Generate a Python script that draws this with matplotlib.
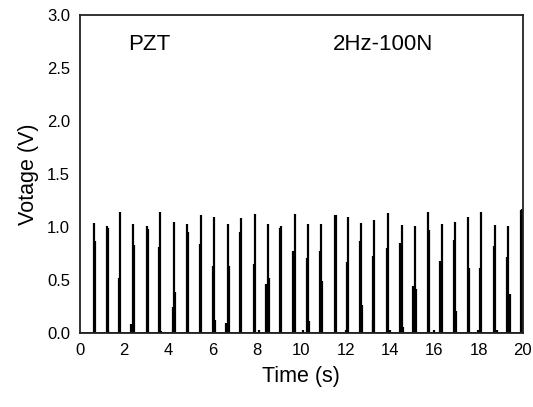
import matplotlib
matplotlib.use("Agg")
import matplotlib.pyplot as plt

plt.rcParams['font.family'] = ['Liberation Sans', 'DejaVu Sans']

# spike times (s), peak voltage, left/right shoulder voltage
spike_t = [0.62, 1.22, 1.80, 2.38, 3.02, 3.63, 4.24, 4.85, 5.48, 6.05, 6.67,
           7.28, 7.89, 8.47, 9.09, 9.69, 10.29, 10.90, 11.50, 12.11, 12.70,
           13.30, 13.92, 14.52, 15.11, 15.71, 16.33, 16.93, 17.53, 18.13,
           18.75, 19.35, 19.95]
peak_v = [1.035, 1.01, 1.145, 1.025, 1.01, 1.145, 1.044, 1.025, 1.113, 1.097,
          1.028, 1.082, 1.123, 1.028, 1.01, 1.123, 1.028, 1.028, 1.113, 1.097,
          1.035, 1.066, 1.135, 1.016, 1.01, 1.145, 1.028, 1.044, 1.097, 1.145,
          1.016, 1.01, 1.17]
left_v = [0.0, 0.0, 0.52, 0.0, 0.0, 0.81, 0.24, 0.0, 0.84, 0.63, 0.0, 0.955,
          0.65, 0.46, 0.99, 0.77, 0.71, 0.77, 0.0, 0.667, 0.87, 0.73, 0.80,
          0.85, 0.44, 0.0, 0.68, 0.88, 0.0, 0.61, 0.82, 0.72, 1.16]
right_v = [0.87, 0.995, 0.0, 0.83, 0.98, 0.0, 0.39, 0.955, 0.0, 0.0, 0.63,
           0.0, 0.0, 0.52, 0.0, 0.0, 0.0, 0.49, 1.11, 0.0, 0.26, 0.0, 0.0,
           0.0, 0.41, 0.97, 0.0, 0.21, 0.61, 0.0, 0.0, 0.37, 0.0]
# small bumps near baseline: time, voltage
bump_t = [2.30, 1.27, 4.18, 3.68, 6.12, 6.60, 8.10, 10.05, 10.36, 12.00,
          13.22, 13.99, 14.57, 16.00, 17.98, 18.82]
bump_v = [0.085, 0.03, 0.03, 0.02, 0.12, 0.09, 0.03, 0.03, 0.11, 0.03,
          0.12, 0.03, 0.06, 0.03, 0.03, 0.03]

x_ticks = [0, 2, 4, 6, 8, 10, 12, 14, 16, 18, 20]
y_ticks = [0.0, 0.5, 1.0, 1.5, 2.0, 2.5, 3.0]

fig = plt.figure(figsize=(5.33, 4.07), dpi=100)
ax = fig.add_axes([0.150, 0.182, 0.831, 0.781])

off = 0.05
lw = 1.6
ax.vlines(spike_t, 0, peak_v, color='black', lw=lw)
ax.vlines([t - off for t in spike_t], 0, left_v, color='black', lw=lw)
ax.vlines([t + off for t in spike_t], 0, right_v, color='black', lw=lw)
ax.vlines(bump_t, 0, bump_v, color='black', lw=lw)
ax.plot([0, 20], [0, 0], color='black', lw=1.2)

ax.set_xlim(0, 20)
ax.set_ylim(0, 3.0)
ax.set_xticks(x_ticks)
ax.set_xticklabels([str(v) for v in x_ticks])
ax.set_yticks(y_ticks)
ax.set_yticklabels([f"{v:.1f}" for v in y_ticks])
ax.tick_params(length=0, labelsize=12, pad=7)
for s in ax.spines.values():
    s.set_linewidth(1.3)
    s.set_color('#222222')

ax.set_xlabel('Time (s)', fontsize=15.5, labelpad=6)
ax.set_ylabel('Votage (V)', fontsize=15.5, labelpad=6)

ax.text(2.17, 2.72, 'PZT', fontsize=16, ha='left', va='center')
ax.text(11.4, 2.72, '2Hz-100N', fontsize=16, ha='left', va='center')

fig.savefig('out.png', dpi=100)
